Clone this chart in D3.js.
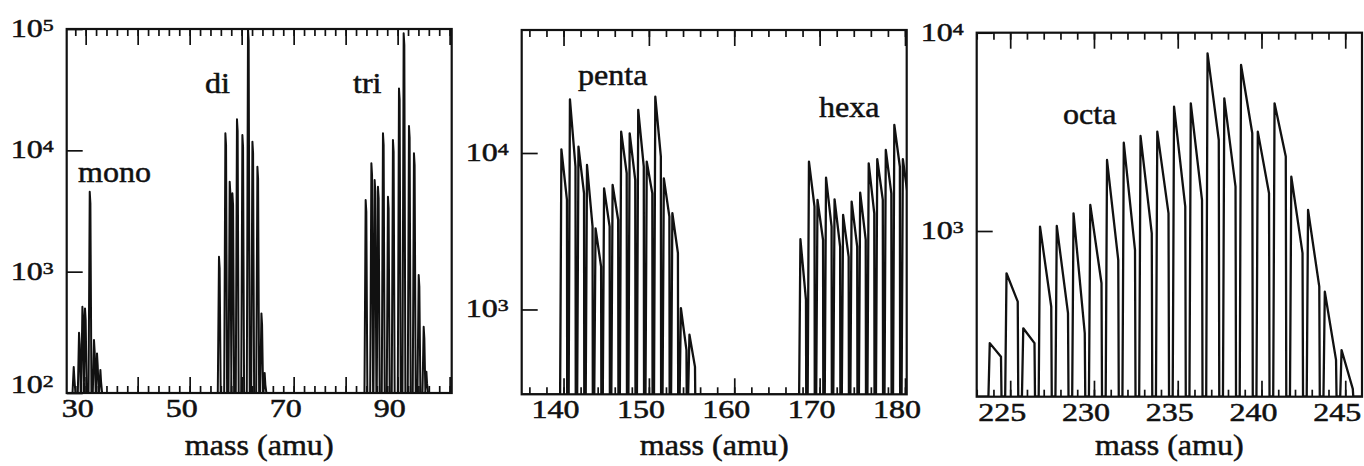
<!DOCTYPE html>
<html>
<head>
<meta charset="utf-8">
<script src="https://cdn.jsdelivr.net/npm/d3@7"></script>
<style>
html, body { margin: 0; padding: 0; background: #fff; }
svg { display: block; }
</style>
</head>
<body>
<svg id="chart" width="1364" height="466"></svg>
<script>
// peaks: [mass, height] (narrow spikes)
const monoPeaks = [[27.75, 164], [28.77, 313], [29.42, 514], [29.92, 498], [30.83, 4560], [31.65, 273], [32.23, 212], [32.88, 155]]
const diPeaks = [[55.69, 1327], [56.92, 13800], [57.75, 5510], [58.27, 4420], [59.15, 18030], [60.19, 13360], [61.27, 100000], [62.12, 11790], [63.08, 7330], [63.85, 453], [64.48, 146]]
const triPeaks = [[83.9, 3890], [85.0, 7820], [85.63, 5690], [86.27, 5010], [87.23, 13800], [88.19, 4140], [89.15, 12170], [90.31, 32400], [91.21, 92300], [92.23, 15860], [93.19, 9440], [94.1, 938], [95.06, 352], [95.58, 150]]

// peaks: [onset mass, top, height before the drop]
const pentaPeaks = [[139.6, 10560, 5010], [140.6, 22000, 8170], [141.6, 10970, 5520], [142.6, 8380, 3380], [143.6, 3300, 1880], [144.6, 5940, 3380], [145.6, 6250, 3730], [146.6, 13680, 7420], [147.6, 13360, 6720], [148.6, 18840, 8170], [149.6, 8810, 5520], [150.6, 22900, 9470], [151.6, 6890, 3920], [152.6, 4120, 2290], [153.6, 1020, 550], [154.6, 690, 430]]
const hexaPeaks = [[167.6, 2810, 1150], [168.6, 8800, 4540], [169.6, 5010, 2780], [170.6, 6950, 3380], [171.6, 5060, 2520], [172.6, 4020, 2170], [173.6, 4890, 2520], [174.6, 5580, 2780], [175.6, 8590, 4120], [176.6, 9120, 5010], [177.6, 10450, 5520], [178.6, 15100, 8170], [179.6, 9120, 5010]]
const octaPeaks = [[223.7, 272, 232], [224.7, 612, 440], [225.7, 323, 272], [226.7, 1052, 415], [227.7, 1060, 385], [228.7, 1228, 305], [229.7, 1353, 545], [230.7, 2280, 714], [231.7, 2786, 801], [232.7, 3013, 973], [233.7, 3170, 1228], [234.7, 4236, 1327], [235.7, 4404, 1432], [236.7, 7870, 2877], [237.7, 4667, 1672], [238.7, 6871, 3112], [239.7, 3170, 1549], [240.7, 4404, 2373], [241.7, 1878, 773], [242.7, 1276, 524], [243.7, 494, 224], [244.7, 251, 160]]

// axes
const xDomain1 = [26.35, 100.4], xDomain2 = [135.1, 180.2], xDomain3 = [223.0, 246.0]
const yDomain1 = [100, 100000], yDomain2 = [287, 61100], yDomain3 = [146, 10000]
const xLabels1 = [30, 50, 70, 90], xLabels2 = [140, 150, 160, 170, 180], xLabels3 = [225, 230, 235, 240, 245]
const yTicks1 = [100, 1000, 10000, 100000], yTicks2 = [1000, 10000], yTicks3 = [1000, 10000]

const FONT = '"Liberation Serif", "Times New Roman", Times, serif'
const svg = d3.select('#chart')
const SX = 1.28   // tick numbers in the scan are wide

const panels = [
    {box: [66.7, 451.7, 29, 393], xd: xDomain1, yd: yDomain1, major: 10, minor: 2, labels: xLabels1, yt: yTicks1,
     spikes: [monoPeaks, diPeaks, triPeaks], lw: 2.0, names: [['mono', 78, 182], ['di', 205, 93], ['tri', 353, 93]]},
    {box: [521.7, 906.7, 30, 394.3], xd: xDomain2, yd: yDomain2, major: 10, minor: 2, labels: xLabels2, yt: yTicks2,
     saw: [pentaPeaks, hexaPeaks], rise: 0.15, fall: 0.8, lw: 2.3, names: [['penta', 578, 85], ['hexa', 819, 117]]},
    {box: [976.7, 1362, 32.7, 396.7], xd: xDomain3, yd: yDomain3, major: 5, minor: 1, labels: xLabels3, yt: yTicks3,
     saw: [octaPeaks], rise: 0.08, fall: 0.75, lw: 2.3, names: [['octa', 1063, 124]]}
]

const sup = {2: '2', 3: '3', 4: '4', 5: '5'}

const addText = (sel) => sel
    .attr('font-family', FONT)
    .attr('fill', '#111')
    .attr('stroke', '#111')
    .attr('stroke-width', 0.5)

panels.forEach((p, i) => {
    const [x0, x1, y0, y1] = p.box
    const x = d3.scaleLinear().domain(p.xd).range([x0, x1])
    const y = d3.scaleLog().domain(p.yd).range([y1, y0])
    const base = p.yd[0]
    const g = svg.append('g')

    g.append('clipPath').attr('id', 'clip' + i)
        .append('rect').attr('x', x0).attr('y', y0 - 1).attr('width', x1 - x0).attr('height', y1 - y0 + 1)

    // spectrum trace
    let pts = [[p.xd[0], base]]
    if (p.spikes) {
        p.spikes.flat().sort((a, b) => a[0] - b[0]).forEach(d => {
            pts.push([d[0] - 0.28, base], [d[0] - 0.05, d[1]], [d[0] + 0.08, d[1] * 0.8], [d[0] + 0.28, base])
        })
    } else {
        p.saw.flat().sort((a, b) => a[0] - b[0]).forEach(d => {
            pts.push([d[0], base], [d[0] + p.rise, d[1]], [d[0] + p.fall, d[2]], [d[0] + p.fall + 0.03, base])
        })
    }
    pts.push([p.xd[1], base])

    const line = d3.line().x(d => x(d[0])).y(d => y(Math.max(d[1], base)))
    g.append('path')
        .attr('d', line(pts))
        .attr('clip-path', `url(#clip${i})`)
        .attr('fill', 'none')
        .attr('stroke', '#111')
        .attr('stroke-width', p.lw)
        .attr('stroke-linejoin', 'round')

    // ticks
    const minorVals = d3.range(Math.ceil(p.xd[0] / p.minor) * p.minor, p.xd[1], p.minor)
    const majorVals = minorVals.filter(v => v % p.major === 0)
    const tickStyle = sel => {
        sel.select('.domain').remove()
        sel.selectAll('line').attr('stroke', '#111').attr('stroke-width', 1.7)
        sel.selectAll('text').remove()
    }
    g.append('g').attr('transform', `translate(0,${y1})`)
        .call(d3.axisBottom(x).tickValues(minorVals).tickSize(-7)).call(tickStyle)
    g.append('g').attr('transform', `translate(0,${y1})`)
        .call(d3.axisBottom(x).tickValues(majorVals).tickSize(-16)).call(tickStyle)
    g.append('g').attr('transform', `translate(0,${y0})`)
        .call(d3.axisTop(x).tickValues(minorVals).tickSize(-7)).call(tickStyle)
    g.append('g').attr('transform', `translate(0,${y0})`)
        .call(d3.axisTop(x).tickValues(majorVals).tickSize(-16)).call(tickStyle)
    g.append('g').attr('transform', `translate(${x0},0)`)
        .call(d3.axisLeft(y).tickValues(p.yt).tickSize(-16)).call(tickStyle)

    // frame
    g.append('rect')
        .attr('x', x0).attr('y', y0).attr('width', x1 - x0).attr('height', y1 - y0)
        .attr('fill', 'none').attr('stroke', '#111').attr('stroke-width', 2.2)

    // x tick labels
    g.selectAll('.xl').data(p.labels).join('text')
        .attr('class', 'xl')
        .attr('transform', d => `translate(${x(d) - 8},${y1 + 24}) scale(${SX},1)`)
        .attr('text-anchor', 'middle')
        .attr('font-size', 25)
        .call(addText)
        .text(d => d)

    // y tick labels, 10 with a superscript
    const yl = g.selectAll('.yl').data(p.yt).join('text')
        .attr('class', 'yl')
        .attr('transform', d => `translate(${x0 - 13},${Math.min(y(d) + 8, y1)}) scale(${SX},1)`)
        .attr('text-anchor', 'end')
        .attr('font-size', 25)
        .call(addText)
    yl.append('tspan').text('10')
    yl.append('tspan').attr('font-size', 17).attr('dy', -6).text(d => sup[Math.round(Math.log10(d))])

    // axis title
    g.append('text')
        .attr('transform', `translate(${(x0 + x1) / 2},455) scale(1.07,1)`)
        .attr('text-anchor', 'middle')
        .attr('font-size', 30)
        .call(addText)
        .text('mass (amu)')

    // cluster names
    p.names.forEach(([t, tx, ty]) => {
        g.append('text')
            .attr('transform', `translate(${tx},${ty}) scale(1.07,1)`)
            .attr('font-size', 30)
            .call(addText)
            .text(t)
    })
})
</script>
</body>
</html>
